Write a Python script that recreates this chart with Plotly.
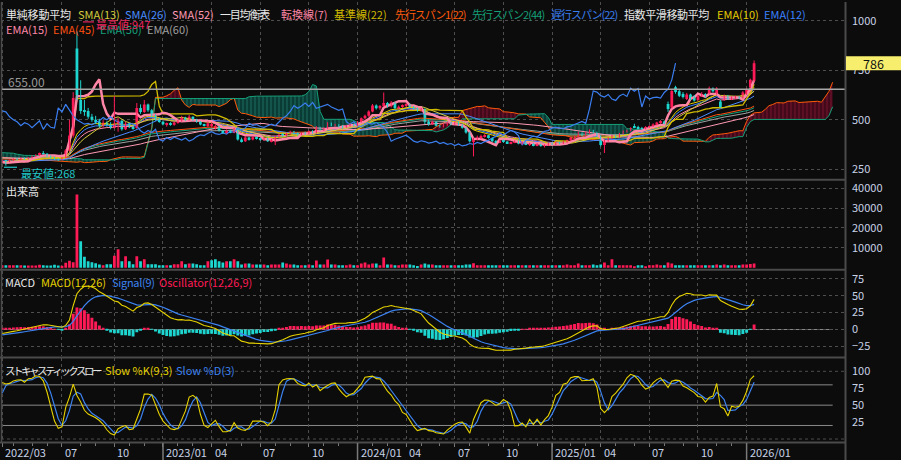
import numpy as np
import pandas as pd
import plotly.graph_objects as go

# ---------------- data (weekly) ----------------
first_week = "2022-03-11"

# weekly closes before the first visible bar (only used to warm up the indicators)
pre_close = [340, 345, 352, 360, 365, 370, 362, 355, 350, 345, 340,
             338, 342, 348, 350, 345, 340, 335, 332, 330, 328, 332,
             335, 330, 325, 322, 320, 318, 322, 325, 328, 324, 320, 316,
             312, 310, 308, 312, 315, 318, 314, 310, 305, 300, 298, 302,
             300, 296, 292, 290, 294, 298, 295, 290, 288, 292, 290, 286,
             282, 280, 278, 276, 280, 284, 286, 288]

opens = [286, 294, 290, 297, 302, 300, 306, 302, 310, 316,
         322, 330, 328, 316, 308, 302, 298, 308, 345, 420,
         860, 600, 548, 545, 515, 500, 490, 470, 485, 478,
         460, 480, 495, 452, 480, 462, 458, 560, 540, 578,
         548, 520, 500, 490, 478, 482, 475, 486, 495, 512,
         500, 515, 498, 490, 476, 468, 470, 460, 468, 445,
         432, 446, 436, 452, 400, 392, 410, 400, 412, 405,
         398, 408, 392, 400, 415, 424, 420, 432, 440, 430,
         426, 434, 428, 442, 436, 460, 450, 458, 482, 472,
         476, 466, 462, 470, 478, 470, 490, 508, 520, 542,
         572, 558, 570, 585, 568, 588, 558, 566, 572, 578,
         565, 556, 548, 555, 490, 478, 490, 470, 466, 476,
         482, 478, 486, 474, 460, 436, 392, 402, 410, 418,
         422, 408, 392, 386, 394, 390, 382, 386, 392, 380,
         386, 376, 380, 370, 378, 368, 372, 380, 376, 386,
         380, 390, 396, 408, 416, 434, 422, 436, 446, 438,
         420, 372, 396, 408, 418, 414, 430, 442, 446, 468,
         462, 458, 455, 464, 468, 476, 486, 492, 580, 562,
         665, 645, 630, 605, 628, 620, 600, 620, 630, 632,
         658, 632, 592, 600, 620, 605, 612, 615, 612, 630,
         664, 697]

highs = [298, 298, 300, 305, 308, 310, 310, 312, 320, 326,
         334, 342, 332, 320, 312, 306, 312, 352, 500, 640,
         947, 700, 600, 560, 530, 520, 505, 498, 492, 488,
         620, 510, 498, 490, 484, 470, 585, 578, 600, 582,
         555, 528, 510, 496, 486, 488, 490, 500, 520, 515,
         525, 518, 505, 494, 480, 492, 488, 476, 470, 448,
         452, 450, 460, 454, 410, 418, 414, 418, 416, 410,
         412, 410, 404, 420, 428, 432, 436, 445, 444, 436,
         438, 440, 446, 448, 468, 465, 462, 488, 486, 480,
         478, 472, 474, 482, 480, 494, 512, 526, 548, 580,
         578, 575, 638, 590, 595, 590, 572, 578, 585, 582,
         570, 562, 560, 558, 500, 496, 492, 476, 480, 488,
         490, 492, 490, 478, 462, 440, 410, 420, 425, 428,
         424, 410, 398, 398, 400, 392, 390, 396, 396, 390,
         388, 384, 382, 382, 380, 376, 384, 386, 390, 388,
         394, 400, 412, 420, 440, 436, 440, 452, 450, 440,
         422, 400, 412, 425, 422, 434, 446, 450, 462, 480,
         470, 464, 468, 472, 482, 490, 498, 496, 592, 650,
         672, 655, 640, 636, 632, 625, 626, 640, 634, 668,
         664, 665, 600, 628, 626, 618, 622, 620, 645, 660,
         708, 800]

lows = [282, 268, 286, 292, 296, 296, 298, 300, 306, 312,
        318, 324, 312, 304, 298, 292, 294, 306, 340, 410,
        600, 530, 520, 505, 490, 478, 462, 460, 465, 452,
        455, 440, 445, 448, 458, 450, 455, 530, 535, 540,
        515, 495, 485, 472, 465, 470, 470, 480, 490, 495,
        496, 495, 485, 472, 466, 462, 460, 450, 440, 428,
        430, 432, 432, 395, 385, 388, 395, 396, 400, 394,
        394, 388, 386, 372, 410, 415, 416, 426, 426, 420,
        422, 424, 426, 430, 432, 445, 444, 455, 468, 466,
        462, 458, 460, 466, 466, 468, 486, 502, 515, 538,
        552, 550, 565, 562, 562, 552, 552, 560, 566, 560,
        550, 540, 540, 478, 470, 474, 466, 460, 462, 470,
        474, 475, 470, 455, 430, 385, 315, 396, 402, 410,
        405, 388, 380, 382, 384, 378, 376, 382, 376, 374,
        372, 368, 366, 366, 364, 360, 368, 372, 372, 376,
        378, 384, 392, 400, 412, 416, 418, 430, 432, 415,
        365, 332, 390, 402, 408, 410, 426, 436, 442, 458,
        452, 450, 452, 460, 464, 472, 480, 478, 540, 558,
        632, 615, 608, 600, 600, 592, 596, 615, 612, 628,
        638, 628, 560, 595, 600, 600, 606, 604, 608, 626,
        660, 692]

closes = [294, 290, 297, 302, 300, 306, 302, 310, 316, 322,
          330, 328, 316, 308, 302, 298, 308, 345, 420, 610,
          625, 545, 540, 515, 500, 490, 470, 485, 478, 460,
          480, 495, 452, 480, 462, 458, 560, 540, 578, 548,
          520, 500, 490, 478, 482, 475, 486, 495, 512, 500,
          515, 498, 490, 476, 470, 482, 478, 468, 445, 432,
          446, 436, 452, 400, 392, 410, 400, 412, 405, 398,
          408, 392, 400, 415, 424, 420, 432, 440, 430, 426,
          434, 428, 442, 436, 460, 450, 458, 482, 472, 476,
          466, 462, 470, 478, 470, 490, 508, 520, 542, 572,
          558, 570, 585, 568, 588, 558, 566, 572, 578, 565,
          556, 548, 555, 490, 478, 490, 470, 466, 476, 482,
          478, 486, 474, 460, 436, 392, 402, 410, 418, 422,
          408, 392, 386, 394, 390, 382, 386, 392, 380, 386,
          376, 380, 370, 378, 368, 372, 380, 376, 386, 380,
          390, 396, 408, 416, 434, 422, 436, 446, 438, 420,
          372, 396, 408, 418, 414, 430, 442, 446, 458, 462,
          458, 455, 464, 468, 476, 486, 492, 482, 555, 646,
          640, 622, 615, 628, 605, 598, 620, 630, 618, 660,
          645, 658, 565, 620, 605, 612, 615, 610, 638, 655,
          702, 786]

volumes = [1300, 1300, 1300, 1300, 1300, 1300, 1100, 1200, 1200, 1100,
           1500, 1300, 1100, 1100, 1500, 1100, 1000, 2500, 3500, 2800,
           36800, 13300, 5500, 3300, 2800, 2300, 1700, 1300, 1800, 1800,
           6000, 9300, 3300, 5800, 3300, 1800, 5800, 3300, 4300, 1800,
           1800, 1800, 1300, 1300, 1300, 1300, 1800, 1800, 3300, 1800,
           2200, 2200, 1800, 1300, 1300, 3300, 3800, 4300, 3300, 2700,
           3300, 3300, 4300, 3300, 1700, 2200, 2200, 1700, 1700, 1700,
           1700, 1300, 1700, 1700, 1700, 2700, 2200, 1700, 1700, 1300,
           1300, 1300, 1700, 1300, 3700, 1700, 1700, 4200, 1700, 1700,
           1300, 1300, 1300, 1700, 1300, 1300, 2200, 2700, 1700, 2200,
           2200, 1300, 5200, 1700, 1700, 1300, 1300, 1700, 1700, 1700,
           1300, 900, 1700, 2200, 1700, 1700, 1300, 1300, 1300, 1300,
           1300, 1300, 1300, 1300, 1700, 1700, 2300, 1300, 1300, 1300,
           1300, 1300, 1300, 1300, 1300, 1300, 1300, 1300, 1300, 1300,
           1300, 1300, 1300, 1300, 1300, 1300, 1300, 1300, 1300, 1300,
           1300, 1700, 1300, 1300, 2200, 1300, 1300, 1300, 1700, 1300,
           1700, 2700, 1300, 4300, 1300, 1300, 1300, 1300, 1300, 800,
           1300, 1300, 800, 1300, 1300, 1700, 1300, 1300, 2700, 2200,
           1300, 1300, 1300, 1300, 1300, 1300, 1300, 1300, 1300, 1300,
           1300, 1700, 1300, 1700, 1300, 1300, 1300, 1300, 1700, 1700,
           1900, 2200]

tick_months = ["2022-03", "2022-07", "2022-10", "2023-01", "2023-04", "2023-07",
               "2023-10", "2024-01", "2024-04", "2024-07", "2024-10", "2025-01",
               "2025-04", "2025-07", "2025-10", "2026-01"]
tick_labels = ["2022/03", "07", "10", "2023/01", "04", "07", "10", "2024/01",
               "04", "07", "10", "2025/01", "04", "07", "10", "2026/01"]

price_line = 655.00
high_label = "最高値:947"
low_label = "最安値:268"
last_label = "786"

# ---------------- styles ----------------
BG = "#0c0c0c"
RED = "#ff1a56"
CYAN = "#1ed6d0"
GRID = "#4e4e4e"
SEP = "#4a4a4a"
TXT = "#c8d2e6"
FONT = "Noto Sans CJK JP"
FS = 11
C_SMA13, C_SMA26, C_SMA52 = "#d2cc3c", "#4a8cff", "#ff9ab4"
C_TENKAN, C_KIJUN = "#ff86a6", "#d2bc00"
C_SPAN1, C_SPAN2, C_CHIKOU = "#ff5a0a", "#14a078", "#3a7ef0"
C_EMA10, C_EMA12, C_EMA15 = "#e6cc00", "#3a80ff", "#ff88a8"
C_EMA45, C_EMA50, C_EMA60 = "#ff5010", "#14a07a", "#a0a0a0"

W, H = 901, 460
ML, MR, MT, MB = 1, 56, 0, 18
PW, PH = W - ML - MR, H - MT - MB


def px(x):
    return (x - ML) / PW


def py(y):
    return 1 - (y - MT) / PH


# ---------------- indicators ----------------
N = len(closes)
P = len(pre_close)
SHIFT = 21
xi = np.arange(N)
fc = pd.Series(pre_close + closes, dtype=float)
fh = pd.Series(pre_close + highs, dtype=float)
fl = pd.Series(pre_close + lows, dtype=float)


def tail(s):
    return s.iloc[P:].to_numpy()


def sma(n):
    return tail(fc.rolling(n).mean())


def ema(n):
    return tail(fc.ewm(span=n, adjust=False).mean())


tenkan_f = (fh.rolling(7).max() + fl.rolling(7).min()) / 2
kijun_f = (fh.rolling(22).max() + fl.rolling(22).min()) / 2
spanA_f = ((tenkan_f + kijun_f) / 2).to_numpy()
spanB_f = ((fh.rolling(44).max() + fl.rolling(44).min()) / 2).to_numpy()
xs_span = np.arange(0, N + SHIFT)
jj = xs_span + P - SHIFT
spanA = spanA_f[jj]
spanB = spanB_f[jj]
spanMax = np.maximum(spanA, spanB)
tenkan = tail(tenkan_f)
kijun = tail(kijun_f)
chikou_x = np.arange(0, N - SHIFT)
chikou_y = np.array(closes[SHIFT:], dtype=float)

macd_f = fc.ewm(span=12, adjust=False).mean() - fc.ewm(span=26, adjust=False).mean()
sig_f = macd_f.ewm(span=9, adjust=False).mean()
macd = tail(macd_f)
sig = tail(sig_f)
osc = macd - sig

ll = fl.rolling(9).min()
hh = fh.rolling(9).max()
slowk_f = (fc - ll).rolling(3).sum() / (hh - ll).rolling(3).sum() * 100
slowd_f = slowk_f.rolling(3).mean()
slowk = tail(slowk_f)
slowd = tail(slowd_f)

# ---------------- dates / ticks ----------------
dates = pd.date_range(first_week, periods=N, freq="7D")
ym = dates.strftime("%Y-%m")
month_pos = [int(np.where(ym == m)[0][0]) for m in pd.unique(ym)]
tick_pos = [int(np.where(ym == m)[0][0]) for m in tick_months]
year_pos = [tick_pos[k] for k, m in enumerate(tick_months) if m.endswith("-01")]

# ---------------- figure ----------------
fig = go.Figure()


def line(x, y, color, width=1, axis="y"):
    fig.add_trace(go.Scatter(x=x, y=y, mode="lines", yaxis=axis,
                             line=dict(color=color, width=width),
                             hoverinfo="skip", showlegend=False))


# ichimoku cloud
fig.add_trace(go.Scatter(x=xs_span, y=spanB, mode="lines", line=dict(width=0),
                         hoverinfo="skip", showlegend=False))
fig.add_trace(go.Scatter(x=xs_span, y=spanMax, mode="lines", line=dict(width=0),
                         fill="tonexty", fillcolor="rgba(0,0,0,0)",
                         fillpattern=dict(shape="|", bgcolor="#42091a", fgcolor="#9a1c3c",
                                          size=4, solidity=0.3),
                         hoverinfo="skip", showlegend=False))
fig.add_trace(go.Scatter(x=xs_span, y=spanA, mode="lines", line=dict(width=0),
                         hoverinfo="skip", showlegend=False))
fig.add_trace(go.Scatter(x=xs_span, y=spanMax, mode="lines", line=dict(width=0),
                         fill="tonexty", fillcolor="rgba(0,0,0,0)",
                         fillpattern=dict(shape="|", bgcolor="#0b3b35", fgcolor="#22907e",
                                          size=4, solidity=0.3),
                         hoverinfo="skip", showlegend=False))
line(xs_span, spanA, C_SPAN1)
line(xs_span, spanB, C_SPAN2)

# moving averages
line(xi, ema(60), C_EMA60)
line(xi, ema(50), C_EMA50)
line(xi, ema(45), C_EMA45)
line(xi, sma(52), C_SMA52)
line(xi, sma(26), C_SMA26)
line(xi, ema(15), C_EMA15)
line(xi, ema(12), C_EMA12)
line(xi, sma(13), C_SMA13)
line(xi, ema(10), C_EMA10)
line(xi, kijun, C_KIJUN, 1.3)
line(xi, tenkan, C_TENKAN, 2.5)
line(chikou_x, chikou_y, C_CHIKOU, 1.2)

# candles
o = np.array(opens, float)
c = np.array(closes, float)
h = np.array(highs, float)
l = np.array(lows, float)
up = c >= o
ccol = np.where(up, RED, CYAN)
for mask, col in ((up, RED), (~up, CYAN)):
    wx, wy = [], []
    for i in np.where(mask)[0]:
        wx += [i, i, None]
        wy += [l[i], h[i], None]
    fig.add_trace(go.Scatter(x=wx, y=wy, mode="lines", line=dict(color=col, width=1),
                             hoverinfo="skip", showlegend=False))
body_base = np.minimum(o, c)
body_h = np.maximum(np.abs(c - o), 3)
fig.add_trace(go.Bar(x=xi, y=body_h, base=body_base, width=0.74,
                     marker=dict(color=ccol, line=dict(width=0)),
                     hoverinfo="skip", showlegend=False))

# volume (coloured by change from the previous week's close)
prev_c = np.concatenate([[pre_close[-1]], c[:-1]])
vcol = np.where(c >= prev_c, RED, CYAN)
fig.add_trace(go.Bar(x=xi, y=volumes, yaxis="y2", width=0.74,
                     marker=dict(color=vcol, line=dict(width=0)),
                     hoverinfo="skip", showlegend=False))

# MACD
fig.add_trace(go.Bar(x=xi, y=osc, yaxis="y3", width=0.78,
                     marker=dict(color=np.where(osc >= 0, RED, CYAN), line=dict(width=0)),
                     hoverinfo="skip", showlegend=False))
line(xi, sig, "#3c82f0", 1.2, "y3")
line(xi, macd, "#e6d200", 1.1, "y3")

# stochastic
line(xi, slowd, "#3c82f0", 1.2, "y4")
line(xi, slowk, "#e6d200", 1.1, "y4")

# ---------------- shapes ----------------
shapes = []
end_x = N - 1 + SHIFT


def hline_data(yv, axis, color, dash="solid", x1=None, width=1):
    shapes.append(dict(type="line", xref="x", yref=axis, x0=-0.3,
                       x1=(end_x if x1 is None else x1), y0=yv, y1=yv,
                       line=dict(color=color, width=width, dash=dash), layer="below"))


hline_data(0, "y3", "#8a8a8a")
for v in (80, 50, 20):
    hline_data(v, "y4", "#8a8a8a")
for v in (100, 0):
    hline_data(v, "y4", GRID, "dot", 225.3)
shapes.append(dict(type="line", xref="paper", yref="y", x0=0, x1=1, y0=price_line, y1=price_line,
                   line=dict(color="#a8a8a8", width=1.5), layer="above"))

# panel separators and frame
for ypix in (178.5, 269, 357, 442.5):
    shapes.append(dict(type="line", xref="paper", yref="paper", x0=px(0), x1=px(845),
                       y0=py(ypix), y1=py(ypix), line=dict(color=SEP, width=2)))
shapes.append(dict(type="line", xref="paper", yref="paper", x0=px(845.5), x1=px(845.5),
                   y0=py(0), y1=py(460), line=dict(color=SEP, width=2)))
shapes.append(dict(type="line", xref="paper", yref="paper", x0=px(1.5), x1=px(1.5),
                   y0=py(0), y1=py(442), line=dict(color=SEP, width=1.5)))
for xp in year_pos:
    shapes.append(dict(type="line", xref="x", yref="paper", x0=xp, x1=xp,
                       y0=py(443), y1=py(460), line=dict(color="#7a7a7a", width=1.5)))

# high / low markers
shapes.append(dict(type="line", xref="paper", yref="paper", x0=px(83), x1=px(94),
                   y0=py(20), y1=py(20), line=dict(color="#e8245c", width=1.2)))
shapes.append(dict(type="line", xref="paper", yref="paper", x0=px(4), x1=px(17),
                   y0=py(166), y1=py(166), line=dict(color="#20c8c8", width=1.2)))
# last price box
shapes.append(dict(type="rect", xref="paper", yref="paper", x0=px(846), x1=px(901),
                   y0=py(68.5), y1=py(54.5), fillcolor="#f6ee6c", line=dict(width=0),
                   layer="above"))

# ---------------- annotations ----------------
anns = []


def txt(s, xpix, ypix, color, size=FS, anchor="left", ls=0.0):
    if ls:
        s = f'<span style="letter-spacing:{ls}px">{s}</span>'
    anns.append(dict(text=s, xref="paper", yref="paper", x=px(xpix), y=py(ypix),
                     xanchor=anchor, yanchor="middle", showarrow=False,
                     font=dict(family=FONT, size=size, color=color)))


legend1 = [("単純移動平均", 4, "#e8e8e8", -0.2), ("SMA(13)", 76, C_SMA13, 0),
           ("SMA(26)", 123, C_SMA26, 0), ("SMA(52)", 170, C_SMA52, 0),
           ("一目均衡表", 218, "#e8e8e8", -1.2), ("転換線(7)", 279, C_TENKAN, 0),
           ("基準線(22)", 332, C_KIJUN, 0), ("先行スパン1(22)", 393, C_SPAN1, -1.1),
           ("先行スパン2(44)", 470, C_SPAN2, -0.9), ("遅行スパン(22)", 549, C_CHIKOU, -1.0),
           ("指数平滑移動平均", 622, "#e8e8e8", -0.4), ("EMA(10)", 715, C_EMA10, 0),
           ("EMA(12)", 762, C_EMA12, 0)]
legend2 = [("EMA(15)", 4, C_EMA15), ("EMA(45)", 51, C_EMA45), ("EMA(50)", 98, C_EMA50),
           ("EMA(60)", 145, C_EMA60)]
for s, xp, col, sp in legend1:
    txt(s, xp, 12.5, col, ls=sp)
for s, xp, col in legend2:
    txt(s, xp, 27.5, col)

txt(high_label, 94, 22, "#e8245c")
txt(low_label, 19, 172, "#20c8c8")
txt(f"{price_line:.2f}", 6, 80, "#9a9a9a", 12)
txt("出来高", 4, 190, "#e8e8e8")
txt("MACD", 3, 281.5, "#e8e8e8")
txt("MACD(12,26)", 39, 281.5, "#e6d200")
txt("Signal(9)", 110, 281.5, "#3c82f0", ls=-0.3)
txt("Oscillator(12,26,9)", 157, 281.5, RED)
txt("ストキャスティックスロー", 3, 370, "#e8e8e8", 10.5, ls=-2.5)
txt("Slow %K(9,3)", 103, 370, "#e6d200")
txt("Slow %D(3)", 174, 370, "#3c82f0")
txt(last_label, 873.5, 61.5, "#111111", 12.5, "center")

for pos, lab in zip(tick_pos, tick_labels):
    anns.append(dict(text=lab, xref="x", yref="paper", x=pos, y=py(452), xanchor="left",
                     yanchor="middle", xshift=1, showarrow=False,
                     font=dict(family=FONT, size=FS, color=TXT)))

# ---------------- layout ----------------
yax_common = dict(side="right", anchor="x", showline=False, zeroline=False, ticks="",
                  ticklabelstandoff=6, tickformat="d",
                  tickfont=dict(family=FONT, size=FS, color=TXT),
                  gridcolor=GRID, griddash="dot", gridwidth=1, fixedrange=True)

fig.update_layout(
    width=W, height=H,
    margin=dict(l=ML, r=MR, t=MT, b=MB),
    paper_bgcolor=BG, plot_bgcolor=BG,
    barmode="overlay", showlegend=False,
    shapes=shapes, annotations=anns,
    xaxis=dict(domain=[0, 1], range=[-0.3, 225.3], anchor="y4",
               tickvals=tick_pos, showticklabels=False,
               ticks="outside", ticklen=4, tickcolor="#7a7a7a",
               minor=dict(tickvals=month_pos, ticks="outside", ticklen=3, tickcolor="#7a7a7a",
                          showgrid=False),
               showgrid=True, gridcolor=GRID, griddash="dot", gridwidth=1,
               showline=False, zeroline=False, fixedrange=True),
    yaxis=dict(domain=[py(177), 1], range=[204.7, 1095.7],
               tickvals=[250, 500, 750, 1000], showgrid=True, **yax_common),
    yaxis2=dict(domain=[py(268), py(180)], range=[-500, 43500],
                tickvals=[10000, 20000, 30000, 40000], showgrid=True, **yax_common),
    yaxis3=dict(domain=[py(356), py(270)], range=[-39.7, 86.8],
                tickvals=[-25, 0, 25, 50, 75], showgrid=True, **yax_common),
    yaxis4=dict(domain=[0, py(358)], range=[-4.4, 119.1],
                tickvals=[25, 50, 75, 100], showgrid=False, **yax_common),
)

fig.write_html("out.html", config={"displayModeBar": False},
               post_script="document.body.style.margin='0';document.body.style.background='#0c0c0c';")
